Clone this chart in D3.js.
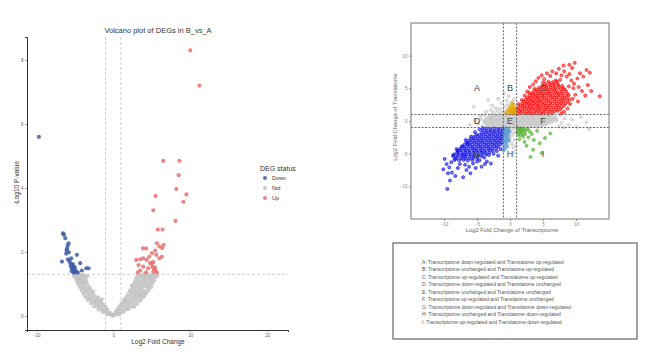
<!DOCTYPE html>
<html><head><meta charset="utf-8">
<script src="https://cdn.jsdelivr.net/npm/d3@7"></script>
<style>body{margin:0;background:#fff}svg{display:block;font-family:"Liberation Sans",Arial,sans-serif}</style>
</head><body>
<svg id="c" width="650" height="355"></svg>
<script>
// ---------------- Volcano data ----------------
const volcanoTitle = "Volcano plot of DEGs in B_vs_A";
const volcanoXTicks = [-10, 0, 10, 20];
const volcanoYTicks = [0, 2, 4, 6, 8];
const volcanoFcCut = [-1, 1];
const volcanoPCut = 1.301;
const degStatus = ["Down", "Not", "Up"];
const volcanoDown = [[-6.53,2.58],[-6.4,2.54],[-6.23,2.43],[-5.8,2.27],[-6.0,2.11],[-5.76,1.99],[-5.45,1.8],[-5.58,1.65],[-5.15,1.54],[-6.66,1.7],[-5.88,1.77],[-4.72,1.91],[-4.29,1.65],[-5.37,1.49],[-4.94,1.44],[-4.07,1.42],[-3.5,1.49],[-3.2,1.49],[-4.6,1.36],[-5.15,1.36],[-5.3,1.58],[-5.2,1.45],[-5.0,1.52],[-5.4,1.4],[-5.1,1.38],[-5.25,1.62],[-4.85,1.36],[-5.5,1.55],[-6.05,2.05],[-5.9,2.2],[-6.1,1.95],[-5.7,1.72],[-9.65,5.6]];
const volcanoUp = [[10.0,8.3],[11.2,7.2],[6.5,4.85],[8.6,4.85],[8.5,4.4],[8.2,3.97],[9.5,3.8],[5.5,3.75],[9.1,3.57],[5.2,3.3],[8.1,2.97],[5.8,2.7],[6.4,2.7],[5.67,2.27],[6.0,2.17],[6.54,2.22],[6.34,2.12],[3.85,2.11],[4.28,2.11],[5.45,2.04],[5.58,1.91],[6.32,1.85],[6.0,1.8],[5.02,1.96],[2.99,1.75],[3.5,1.77],[3.9,1.8],[4.33,1.75],[4.8,1.65],[5.2,1.68],[3.29,1.59],[3.9,1.54],[4.54,1.49],[5.1,1.54],[5.45,1.44],[5.2,1.38],[3.5,1.42],[4.28,1.36],[5.67,1.36],[3.2,1.36],[5.0,1.65],[4.67,1.85],[5.4,1.52],[5.3,1.47]];
const volcanoNot = [
[-4.8,1.28],[-4.42,1.27],[-4.05,1.29],[-3.72,1.26],[-4.92,1.2],[-4.5,1.21],[-4.12,1.18],[-3.68,1.2],
[-4.71,1.1],[-4.33,1.12],[-3.9,1.09],[-3.52,1.11],[-4.58,1.0],[-4.2,1.02],[-3.81,0.98],[-3.41,1.01],
[-4.33,0.9],[-3.93,0.91],[-3.5,0.88],[-3.12,0.9],[-4.1,0.8],[-3.72,0.82],[-3.3,0.79],[-2.92,0.81],
[-3.88,0.7],[-3.5,0.72],[-3.1,0.69],[-2.71,0.71],[-3.62,0.6],[-3.21,0.61],[-2.8,0.59],[-2.42,0.62],[-2.02,0.58],
[-3.3,0.5],[-2.91,0.51],[-2.5,0.49],[-2.1,0.52],[-1.72,0.48],[-2.9,0.4],[-2.52,0.41],[-2.12,0.39],[-1.7,0.42],[-1.38,0.38],
[-2.48,0.3],[-2.1,0.31],[-1.72,0.29],[-1.31,0.32],[-1.0,0.28],[-1.92,0.2],[-1.5,0.21],[-1.12,0.19],[-0.8,0.2],
[-1.38,0.12],[-1.02,0.13],[-0.68,0.11],[-0.4,0.1],[-0.82,0.05],[-0.52,0.06],[-0.25,0.04],[-0.08,0.01],
[-5.1,1.25],[-3.35,1.24],[-2.6,0.75],[-1.5,0.52],[-3.95,1.05],[-2.25,0.45],[-1.85,0.35],[-4.6,1.15],
[3.22,1.28],[3.6,1.27],[4.02,1.29],[4.4,1.26],[4.8,1.28],[5.2,1.27],[5.52,1.29],
[3.0,1.2],[3.42,1.21],[3.8,1.19],[4.22,1.2],[4.6,1.22],[5.0,1.19],[5.4,1.2],
[2.88,1.1],[3.3,1.11],[3.7,1.09],[4.1,1.12],[4.5,1.1],[4.92,1.08],[5.3,1.11],
[2.7,1.0],[3.1,1.01],[3.5,0.99],[3.92,1.02],[4.3,1.0],[4.7,0.98],[5.1,1.01],
[2.5,0.9],[2.9,0.91],[3.3,0.89],[3.72,0.9],[4.1,0.92],[4.5,0.89],[4.9,0.9],
[2.2,0.8],[2.62,0.81],[3.0,0.79],[3.4,0.82],[3.8,0.8],[4.2,0.78],[4.6,0.81],
[2.0,0.7],[2.4,0.71],[2.8,0.69],[3.22,0.72],[3.6,0.7],[4.0,0.68],[4.3,0.71],
[1.7,0.6],[2.1,0.61],[2.5,0.59],[2.9,0.62],[3.3,0.6],[3.7,0.58],[4.0,0.61],
[1.4,0.5],[1.8,0.51],[2.2,0.49],[2.62,0.52],[3.0,0.5],[3.4,0.48],[3.62,0.51],
[1.1,0.4],[1.5,0.41],[1.9,0.39],[2.3,0.42],[2.7,0.4],[3.1,0.38],
[0.8,0.3],[1.2,0.31],[1.6,0.29],[2.0,0.32],[2.4,0.3],[2.72,0.28],
[0.52,0.2],[0.9,0.21],[1.3,0.19],[1.7,0.2],[2.0,0.22],[0.3,0.12],[0.7,0.13],[1.0,0.11],[1.32,0.12],
[0.15,0.05],[0.45,0.06],[0.75,0.04],[0.05,0.01],[5.7,1.25],[2.4,0.95],[3.9,1.3],[1.55,0.45],[4.85,1.15],[3.45,0.66]];

// ---------------- Transcriptome vs Translatome data ----------------
const quadTicks = [-10, -5, 0, 5, 10];
const quadCut = [-1, 1];
const regionLabels = [["A",-5,5],["B",0,5],["C",5,5],["D",-5,0],["E",0,0],["F",5,0],["G",-5,-5],["H",0,-5],["I",5,-5]];
const regionDescriptions = [
"A: Transcriptome down-regulated and Translatome up-regulated",
"B: Transcriptome unchanged and Translatome up-regulated",
"C: Transcriptome up-regulated and Translatome up-regulated",
"D: Transcriptome down-regulated and Translatome unchanged",
"E: Transcriptome unchanged and Translatome unchanged",
"F: Transcriptome up-regulated and Translatome unchanged",
"G: Transcriptome down-regulated and Translatome down-regulated",
"H: Transcriptome unchanged and Translatome down-regulated",
"I: Transcriptome up-regulated and Translatome down-regulated"];
const quadGray = [
[-2.8,0.92],[-2.2,0.87],[-1.6,0.93],[-1.0,0.88],[-0.4,0.91],[0.2,0.86],[0.8,0.94],[1.4,0.89],[2.0,0.9],[2.6,0.87],[3.2,0.93],[3.8,0.88],[4.4,0.91],[5.0,0.86],[5.6,0.92],[6.2,0.89],
[-3.0,0.72],[-2.4,0.69],[-1.8,0.75],[-1.2,0.7],[-0.6,0.74],[0.0,0.71],[0.6,0.68],[1.2,0.73],[1.8,0.7],[2.4,0.76],[3.0,0.69],[3.6,0.72],[4.2,0.74],[4.8,0.7],[5.4,0.73],[6.0,0.68],[6.6,0.71],
[-3.3,0.55],[-2.7,0.5],[-2.1,0.58],[-1.5,0.53],[-0.9,0.57],[-0.3,0.51],[0.3,0.56],[0.9,0.52],[1.5,0.59],[2.1,0.54],[2.7,0.5],[3.3,0.57],[3.9,0.53],[4.5,0.58],[5.1,0.51],[5.7,0.56],[6.3,0.52],[6.9,0.55],
[-3.5,0.37],[-2.9,0.39],[-2.3,0.34],[-1.7,0.38],[-1.1,0.36],[-0.5,0.4],[0.1,0.35],[0.7,0.38],[1.3,0.33],[1.9,0.39],[2.5,0.36],[3.1,0.4],[3.7,0.34],[4.3,0.37],[4.9,0.39],[5.5,0.35],[6.1,0.38],[6.7,0.36],
[-3.7,0.2],[-3.1,0.24],[-2.5,0.17],[-1.9,0.22],[-1.3,0.18],[-0.7,0.23],[-0.1,0.19],[0.5,0.21],[1.1,0.16],[1.7,0.24],[2.3,0.2],[2.9,0.18],[3.5,0.23],[4.1,0.17],[4.7,0.22],[5.3,0.19],[5.9,0.24],[6.5,0.18],[7.1,0.21],
[-3.8,0.02],[-3.2,0.05],[-2.6,-0.01],[-2.0,0.03],[-1.4,0.0],[-0.8,0.04],[-0.2,-0.02],[0.4,0.03],[1.0,0.01],[1.6,-0.02],[2.2,0.04],[2.8,0.0],[3.4,0.03],[4.0,-0.01],[4.6,0.05],[5.2,0.01],[5.8,-0.02],[6.4,0.03],[7.0,0.0],
[-3.9,-0.15],[-3.3,-0.11],[-2.7,-0.18],[-2.1,-0.13],[-1.5,-0.17],[-0.9,-0.12],[-0.3,-0.16],[0.3,-0.14],[0.9,-0.19],[1.5,-0.11],[2.1,-0.15],[2.7,-0.18],[3.3,-0.12],[3.9,-0.17],[4.5,-0.13],[5.1,-0.16],[5.7,-0.11],[6.3,-0.18],
[-3.7,-0.32],[-3.1,-0.35],[-2.5,-0.3],[-1.9,-0.34],[-1.3,-0.31],[-0.7,-0.36],[-0.1,-0.3],[0.5,-0.33],[1.1,-0.35],[1.7,-0.31],[2.3,-0.34],[2.9,-0.3],[3.5,-0.36],[4.1,-0.32],[4.7,-0.34],[5.3,-0.31],[5.9,-0.33],
[-3.6,-0.5],[-3.0,-0.46],[-2.4,-0.53],[-1.8,-0.48],[-1.2,-0.52],[-0.6,-0.47],[0.0,-0.54],[0.6,-0.49],[1.2,-0.51],[1.8,-0.46],[2.4,-0.53],[3.0,-0.48],[3.6,-0.52],[4.2,-0.47],[4.8,-0.5],[5.4,-0.54],
[-3.4,-0.67],[-2.8,-0.7],[-2.2,-0.65],[-1.6,-0.69],[-1.0,-0.66],[-0.4,-0.71],[0.2,-0.67],[0.8,-0.7],[1.4,-0.65],[2.0,-0.69],[2.6,-0.72],[3.2,-0.66],[3.8,-0.7],[4.4,-0.68],[5.0,-0.65],
[-3.2,-0.85],[-2.6,-0.81],[-2.0,-0.88],[-1.4,-0.83],[-0.8,-0.87],[-0.2,-0.82],[0.4,-0.89],[1.0,-0.84],[1.6,-0.86],[2.2,-0.81],[2.8,-0.88],[3.4,-0.83],[4.0,-0.87],[4.6,-0.82],
[-2.5,1.3],[-1.9,1.5],[-1.4,1.2],[-2.2,2.0],[-1.6,1.9],[-1.1,1.6],[-0.7,1.3],[-0.3,2.5],[-0.8,2.2],[-1.3,2.7],[-2.7,2.4],[-3.3,3.2],[-0.5,3.1],[-1.8,3.4],[0.3,2.9],[-0.2,3.8],[0.6,3.3],[-2.9,1.7],[-3.6,1.4],[-0.9,4.2],[-5.5,2.2],
[7.6,0.9],[7.8,-0.3],[8.3,0.4],[8.9,-0.6],[9.4,0.2],[10.1,-0.9],[10.8,0.6],[7.4,-0.8],[11.6,-0.2],[8.1,-1.0],[12.0,-1.2],
[-4.4,0.3],[-4.8,-0.4],[-5.3,0.1],[-4.2,-0.8],[-4.5,0.8],[-6.1,-0.6],[-3.9,0.9],
[0.2,-1.3],[0.6,-1.8],[0.1,-2.4],[0.7,-2.9],[0.3,-3.5],[0.8,-1.2],[0.5,-4.1],[0.0,-1.7],[0.9,-3.8],[-0.1,-3.0],[0.4,-2.1],[0.7,-4.8]];
const quadRed = [
[1.2,1.15],[1.7,1.25],[2.3,1.18],[2.9,1.22],[3.4,1.13],[4.0,1.24],[4.6,1.17],[5.1,1.21],[5.8,1.14],[6.4,1.23],
[1.4,1.48],[1.9,1.55],[2.5,1.45],[3.1,1.52],[3.7,1.47],[4.3,1.56],[4.8,1.44],[5.4,1.51],[6.0,1.53],[6.7,1.46],[7.2,1.55],
[1.1,1.82],[1.6,1.75],[2.2,1.85],[2.8,1.78],[3.3,1.83],[3.9,1.76],[4.5,1.86],[5.2,1.79],[5.7,1.84],[6.3,1.77],[7.0,1.85],[7.6,1.8],
[1.3,2.08],[1.9,2.15],[2.5,2.05],[3.0,2.12],[3.6,2.07],[4.2,2.16],[4.8,2.04],[5.4,2.11],[6.0,2.14],[6.6,2.06],[7.3,2.13],[7.9,2.09],
[1.6,2.42],[2.1,2.35],[2.7,2.45],[3.3,2.38],[3.9,2.43],[4.4,2.36],[5.0,2.46],[5.6,2.39],[6.2,2.44],[6.9,2.37],[7.5,2.45],[8.2,2.4],
[1.9,2.68],[2.4,2.75],[3.0,2.65],[3.5,2.72],[4.1,2.67],[4.7,2.76],[5.3,2.64],[5.9,2.71],[6.5,2.74],[7.1,2.66],[7.8,2.73],[8.4,2.69],
[2.1,3.02],[2.7,2.95],[3.2,3.05],[3.8,2.98],[4.4,3.03],[5.0,2.96],[5.5,3.06],[6.1,2.99],[6.8,3.04],[7.4,2.97],[8.0,3.05],[8.7,3.0],
[2.4,3.28],[2.9,3.35],[3.5,3.25],[4.1,3.32],[4.6,3.27],[5.2,3.36],[5.8,3.24],[6.4,3.31],[7.0,3.34],[7.7,3.26],[8.3,3.33],[9.0,3.29],
[2.6,3.62],[3.2,3.55],[3.8,3.65],[4.3,3.58],[4.9,3.63],[5.5,3.56],[6.1,3.66],[6.7,3.59],[7.3,3.64],[7.9,3.57],[8.6,3.61],
[3.0,3.88],[3.5,3.95],[4.1,3.85],[4.7,3.92],[5.2,3.87],[5.8,3.96],[6.4,3.84],[7.0,3.91],[7.6,3.94],[8.2,3.86],[8.9,3.93],
[3.3,4.22],[3.9,4.15],[4.4,4.25],[5.0,4.18],[5.6,4.23],[6.2,4.16],[6.8,4.26],[7.4,4.19],[8.0,4.24],[8.7,4.17],
[3.6,4.48],[4.2,4.55],[4.8,4.45],[5.4,4.52],[6.0,4.47],[6.6,4.56],[7.2,4.44],[7.8,4.51],[8.5,4.54],
[4.0,4.82],[4.6,4.75],[5.2,4.85],[5.8,4.78],[6.4,4.83],[7.0,4.76],[7.7,4.86],[8.3,4.79],
[4.4,5.08],[5.0,5.15],[5.6,5.05],[6.2,5.12],[6.8,5.07],[7.4,5.16],[8.1,5.04],
[4.9,5.42],[5.5,5.35],[6.1,5.45],[6.7,5.38],[7.3,5.43],[7.9,5.36],
[5.3,5.68],[6.0,5.75],[6.6,5.65],[7.2,5.72],[5.8,6.02],[6.5,5.95],[7.1,6.05],
[1.3,2.6],[1.8,3.2],[2.2,3.9],[2.6,4.5],[3.0,5.2],[3.5,5.6],[3.9,6.1],[4.3,6.6],[4.8,7.0],[5.2,6.4],[5.6,7.3],[6.1,6.9],[6.4,7.6],[7.0,7.3],[7.4,8.0],[7.8,7.0],[8.2,7.6],[8.6,6.8],[9.0,7.2],[9.4,8.1],[9.8,8.9],[9.3,6.2],[9.7,5.7],[10.2,6.5],[10.6,7.3],[11.1,6.8],[11.6,7.8],[12.1,7.4],[10.4,5.2],[10.9,4.6],[11.4,3.9],[9.9,4.0],[9.5,3.4],[9.1,2.6],[8.7,1.9],[8.2,1.4],[7.8,1.2],[10.3,3.0],[11.8,5.5],[12.3,4.6],[13.6,3.8],[8.9,5.3],[9.6,5.0],[7.6,6.3],[6.9,6.2],[5.0,5.9],[3.7,4.9],[2.9,4.3],[8.1,8.5],[9.0,8.6]];
const quadBlue = [
[-1.2,-1.18],[-1.8,-1.24],[-2.4,-1.15],[-3.0,-1.22],[-3.6,-1.16],
[-1.1,-1.52],[-1.7,-1.46],[-2.3,-1.55],[-2.9,-1.48],[-3.5,-1.53],[-4.1,-1.45],
[-1.3,-1.78],[-1.9,-1.85],[-2.5,-1.75],[-3.1,-1.82],[-3.7,-1.77],[-4.3,-1.84],
[-1.1,-2.12],[-1.6,-2.05],[-2.2,-2.15],[-2.8,-2.08],[-3.4,-2.13],[-4.0,-2.06],[-4.6,-2.14],[-5.1,-2.09],
[-1.3,-2.38],[-1.9,-2.45],[-2.5,-2.35],[-3.1,-2.42],[-3.7,-2.37],[-4.3,-2.44],[-4.9,-2.36],[-5.5,-2.43],
[-1.2,-2.72],[-1.7,-2.65],[-2.3,-2.75],[-2.9,-2.68],[-3.5,-2.73],[-4.1,-2.66],[-4.7,-2.74],[-5.3,-2.67],[-5.9,-2.71],
[-1.4,-2.98],[-2.0,-3.05],[-2.6,-2.95],[-3.2,-3.02],[-3.8,-2.97],[-4.4,-3.04],[-5.0,-2.96],[-5.6,-3.03],[-6.2,-2.99],
[-1.2,-3.32],[-1.8,-3.25],[-2.4,-3.35],[-3.0,-3.28],[-3.6,-3.33],[-4.2,-3.26],[-4.8,-3.34],[-5.4,-3.27],[-6.0,-3.31],[-6.6,-3.29],
[-1.5,-3.58],[-2.1,-3.65],[-2.7,-3.55],[-3.3,-3.62],[-3.9,-3.57],[-4.5,-3.64],[-5.1,-3.56],[-5.7,-3.63],[-6.3,-3.59],[-6.9,-3.61],
[-1.8,-3.92],[-2.4,-3.85],[-3.0,-3.95],[-3.6,-3.88],[-4.2,-3.93],[-4.8,-3.86],[-5.4,-3.94],[-6.0,-3.87],[-6.6,-3.91],[-7.2,-3.89],
[-2.1,-4.18],[-2.7,-4.25],[-3.3,-4.15],[-3.9,-4.22],[-4.5,-4.17],[-5.1,-4.24],[-5.7,-4.16],[-6.3,-4.23],[-6.9,-4.19],[-7.5,-4.21],
[-2.6,-4.52],[-3.2,-4.45],[-3.8,-4.55],[-4.4,-4.48],[-5.0,-4.53],[-5.6,-4.46],[-6.2,-4.54],[-6.8,-4.47],[-7.4,-4.51],[-7.9,-4.49],
[-3.1,-4.78],[-3.7,-4.85],[-4.3,-4.75],[-4.9,-4.82],[-5.5,-4.77],[-6.1,-4.84],[-6.7,-4.76],[-7.3,-4.83],[-8.0,-4.79],
[-3.6,-5.12],[-4.2,-5.05],[-4.8,-5.15],[-5.4,-5.08],[-6.0,-5.13],[-6.6,-5.06],[-7.2,-5.14],[-7.8,-5.07],[-8.4,-5.11],
[-4.3,-5.38],[-4.9,-5.45],[-5.5,-5.35],[-6.1,-5.42],[-6.7,-5.37],[-7.3,-5.44],[-7.9,-5.36],[-8.6,-5.41],
[-5.0,-5.72],[-5.6,-5.65],[-6.2,-5.75],[-6.8,-5.68],[-7.4,-5.73],[-8.1,-5.66],
[-5.7,-5.98],[-6.4,-6.05],[-7.0,-5.95],[-7.7,-6.02],[-8.4,-5.97],
[-9.5,-10.4],[-9.2,-7.1],[-9.6,-6.6],[-8.8,-7.9],[-8.3,-8.4],[-7.9,-7.2],[-7.1,-8.6],[-6.6,-7.5],[-8.9,-6.3],[-9.9,-5.8],[-8.6,-5.2],[-7.6,-6.6],[-6.8,-6.7],[-6.2,-7.0],[-5.6,-6.5],[-5.0,-6.2],[-4.3,-7.0],[-4.6,-6.0],[-3.9,-5.6],[-3.2,-5.2],[-2.5,-5.0],[-2.0,-4.6],[-1.4,-4.3],[-7.3,-3.9],[-6.7,-2.9],[-5.9,-2.4],[-5.3,-1.7],[-4.6,-1.3],[-7.9,-4.6],[-8.3,-5.8],[-9.4,-8.0],[-10.1,-7.4],[-6.0,-8.0],[-5.2,-7.2],[-3.5,-6.2],[-2.9,-6.5],[-7.0,-5.2],[-8.1,-4.3],[-6.4,-3.4],[-9.1,-9.1],[-4.1,-1.1],[-3.8,-6.6],[-1.8,-5.3]];
const quadLightBlue = [[-0.9,-1.1],[-0.6,-1.15],[-0.3,-1.2],[-0.8,-1.4],[-0.5,-1.5],[-0.2,-1.45],[-0.9,-1.7],[-0.65,-1.8],[-0.35,-1.75],[-0.85,-2.0],[-0.55,-2.1],[-0.25,-2.05],[-0.9,-2.35],[-0.6,-2.4],[-0.3,-2.5],[-0.8,-2.7],[-0.5,-2.8],[-0.9,-3.0],[-0.65,-3.15],[-0.35,-3.1],[-0.85,-3.4],[-0.55,-3.6],[-0.9,-3.9],[-0.7,-4.2],[-0.4,-3.9],[-0.15,-2.9],[-0.1,-1.6],[-0.95,-4.5]];
const quadOrange = [[0.1,1.2],[0.4,1.15],[0.7,1.25],[0.2,1.5],[0.55,1.45],[0.85,1.4],[-0.2,1.3],[0.3,1.8],[0.65,1.75],[0.0,1.7],[0.45,2.1],[0.8,2.0],[0.15,2.3],[-0.4,1.6],[0.6,2.5],[0.9,1.1],[-0.1,2.0],[0.35,2.7],[-0.6,1.2],[0.75,1.6]];
const quadGreen = [[1.2,-1.1],[1.5,-1.2],[1.8,-1.15],[2.1,-1.3],[1.3,-1.4],[1.65,-1.5],[2.0,-1.6],[2.4,-1.45],[1.1,-1.7],[1.45,-1.8],[1.85,-1.9],[2.3,-2.0],[1.25,-2.1],[1.6,-2.2],[2.0,-2.4],[2.7,-1.2],[3.0,-1.6],[2.8,-2.5],[3.3,-2.0],[2.2,-3.2],[3.6,-2.9],[4.1,-1.5],[3.5,-4.4],[4.5,-3.4],[5.3,-2.6],[1.4,-2.8],[2.5,-3.8],[6.1,-1.9],[4.8,-4.9],[3.1,-5.5]];

// ---------------- Drawing ----------------
const svg = d3.select("#c");
const volColors = {Down:"#3d5ca6", Not:"#c2c2c2", Up:"#e9716f"};

// Volcano panel
const xV = d3.scaleLinear().domain([-11.2, 22.7]).range([27, 288]);
const yV = d3.scaleLinear().domain([-0.44, 8.72]).range([330, 37]);
const gV = svg.append("g");
gV.selectAll("line.vcut").data(volcanoFcCut).join("line")
  .attr("x1", d => xV(d)).attr("x2", d => xV(d))
  .attr("y1", yV.range()[1]).attr("y2", yV.range()[0])
  .attr("stroke", "#c4c4c4").attr("stroke-width", 0.8).attr("stroke-dasharray", "3,2");
gV.append("line").attr("x1", xV.range()[0]).attr("x2", xV.range()[1])
  .attr("y1", yV(volcanoPCut)).attr("y2", yV(volcanoPCut))
  .attr("stroke", "#c4c4c4").attr("stroke-width", 0.8).attr("stroke-dasharray", "3,2");

function volPts(data, col) {
  gV.append("g").selectAll("circle").data(data).join("circle")
    .attr("cx", d => xV(d[0])).attr("cy", d => yV(d[1])).attr("r", 2.1)
    .attr("fill", col).attr("fill-opacity", 0.85);
}
volPts(volcanoNot, volColors.Not);
volPts(volcanoDown, volColors.Down);
volPts(volcanoUp, volColors.Up);

function styleAxis(g, fs, col) {
  g.selectAll("text").attr("font-size", fs).attr("fill", col).attr("font-family", '"Liberation Sans",Arial,sans-serif');
  g.selectAll("line").attr("stroke", "#555").attr("stroke-width", 0.6);
}
const axVx = gV.append("g").attr("transform", `translate(0,${yV.range()[0]})`)
  .call(d3.axisBottom(xV).tickValues(volcanoXTicks).tickSize(2).tickPadding(1.5));
axVx.select(".domain").attr("stroke", "#333").attr("stroke-width", 1);
styleAxis(axVx, 4.5, "#666");
const axVy = gV.append("g").attr("transform", `translate(${xV.range()[0]},0)`)
  .call(d3.axisLeft(yV).tickValues(volcanoYTicks).tickSize(2).tickPadding(1.5));
axVy.select(".domain").attr("stroke", "#333").attr("stroke-width", 1);
styleAxis(axVy, 4.5, "#666");

gV.append("text").attr("x", 158).attr("y", 33).attr("text-anchor", "middle")
  .attr("font-size", 7.5).attr("fill", "#333").text(volcanoTitle);
gV.append("text").attr("x", 158).attr("y", 344).attr("text-anchor", "middle")
  .attr("font-size", 6.5).attr("fill", "#333").text("Log2 Fold Change");
gV.append("text").attr("transform", "translate(19,183) rotate(-90)").attr("text-anchor", "middle")
  .attr("font-size", 6.5).attr("fill", "#333").text("-Log10 P-value");

const leg = gV.append("g");
leg.append("text").attr("x", 260).attr("y", 171).attr("font-size", 7).attr("fill", "#333").text("DEG status");
const li = leg.selectAll("g.li").data(degStatus).join("g").attr("transform", (d, i) => `translate(0,${178 + i * 10})`);
li.append("circle").attr("cx", 265).attr("cy", 0).attr("r", 2).attr("fill", d => volColors[d]).attr("fill-opacity", 0.85);
li.append("text").attr("x", 272).attr("y", 2).attr("font-size", 5.5).attr("fill", "#333").text(d => d);

// Quadrant panel
const xS = d3.scaleLinear().domain([-15, 15]).range([411, 609]);
const yS = d3.scaleLinear().domain([-15, 15]).range([219, 23]);
const gS = svg.append("g");
function quadPts(data, col) {
  gS.append("g").selectAll("circle").data(data).join("circle")
    .attr("cx", d => xS(d[0])).attr("cy", d => yS(d[1])).attr("r", 1.5)
    .attr("fill", col).attr("fill-opacity", 0.55).attr("stroke", col).attr("stroke-width", 0.7);
}
quadPts(quadGray, "#c8c8c8");
quadPts(quadRed, "#ff1010");
quadPts(quadBlue, "#1515e8");
quadPts(quadLightBlue, "#5a9bd0");
quadPts(quadOrange, "#e6a000");
quadPts(quadGreen, "#4fae2e");

gS.selectAll("line.qv").data(quadCut).join("line")
  .attr("x1", d => xS(d)).attr("x2", d => xS(d)).attr("y1", yS.range()[1]).attr("y2", yS.range()[0])
  .attr("stroke", "#555").attr("stroke-width", 0.9).attr("stroke-dasharray", "2,1.5");
gS.selectAll("line.qh").data(quadCut).join("line")
  .attr("y1", d => yS(d)).attr("y2", d => yS(d)).attr("x1", xS.range()[0]).attr("x2", xS.range()[1])
  .attr("stroke", "#555").attr("stroke-width", 0.9).attr("stroke-dasharray", "2,1.5");

gS.selectAll("text.rl").data(regionLabels).join("text")
  .attr("x", d => xS(d[1])).attr("y", d => yS(d[2])).attr("text-anchor", "middle").attr("dominant-baseline", "central")
  .attr("font-size", 9).attr("fill", "#444").text(d => d[0]);

gS.append("rect").attr("x", 411).attr("y", 23).attr("width", 198).attr("height", 196)
  .attr("fill", "none").attr("stroke", "#8a8a8a").attr("stroke-width", 1.2);
const axSx = gS.append("g").attr("transform", `translate(0,${yS.range()[0]})`)
  .call(d3.axisBottom(xS).tickValues(quadTicks).tickSize(2).tickPadding(1.5));
axSx.select(".domain").remove();
styleAxis(axSx, 4.5, "#888");
const axSy = gS.append("g").attr("transform", `translate(${xS.range()[0]},0)`)
  .call(d3.axisLeft(yS).tickValues(quadTicks).tickSize(2).tickPadding(1.5));
axSy.select(".domain").remove();
styleAxis(axSy, 4.5, "#888");
gS.append("text").attr("x", 512).attr("y", 232).attr("text-anchor", "middle")
  .attr("font-size", 5.8).attr("fill", "#666").text("Log2 Fold Change of Transcriptome");
gS.append("text").attr("transform", "translate(397,117) rotate(-90)").attr("text-anchor", "middle")
  .attr("font-size", 5.8).attr("fill", "#666").text("Log2 Fold Change of Translatome");

// Description box
const gL = svg.append("g");
gL.append("rect").attr("x", 393).attr("y", 243).attr("width", 244).attr("height", 96)
  .attr("fill", "#fff").attr("stroke", "#666").attr("stroke-width", 1.2);
gL.selectAll("text").data(regionDescriptions).join("text")
  .attr("x", 422).attr("y", (d, i) => 264 + i * 7.45)
  .attr("font-size", 5).attr("fill", "#555").text(d => d);
</script>
</body></html>
